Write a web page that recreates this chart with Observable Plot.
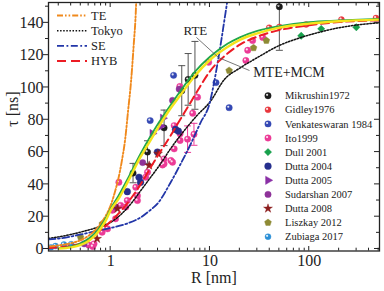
<!DOCTYPE html>
<html><head><meta charset="utf-8">
<script src="https://cdn.jsdelivr.net/npm/d3@7"></script>
<script src="https://cdn.jsdelivr.net/npm/@observablehq/plot@0.6"></script>
<style>html,body{margin:0;padding:0;background:#fff;}</style>
</head><body><div id="chart"></div>
<script>
// ---- model curves (R in nm, tau in ns) ----
const teR  = [0.2365,0.3,0.4,0.5,0.6,0.7,0.8,0.9,1,1.1,1.2,1.3,1.4,1.5,1.6,1.7,1.8,1.9];
const teTau= [1.5,2.2,3.6,5.5,8.2,11.6,16,21,27,35,44,55,68,86,103,125,150,200];
const tokR  = [0.2365,0.3,0.5,0.7,1,1.3,1.6,2,2.5,3.2,4,5,7.5,10,14,20,30,50,83,123,200,334,510];
const tokTau= [6.5,7.5,10.5,13,16.5,22,28,36,44,53,62,70,83,91,105,112,118.5,126,131,134,137,139,140];
const seR  = [0.2365,0.3,0.5,0.7,1,1.5,2,2.5,3,4,5,6.4,8,10,11,12,13,14,15,16];
const seTau= [6,6.5,9,11,13,16,19.5,24,28.5,41,52,65,78,91,103,116,129,142,154,166];
const hybR  = [0.2365,0.3,0.4,0.5,0.6,0.7,0.8,1,1.5,2,2.5,3,4,5,6,7.5,10,15,20,30,50,100,200,510];
const hybTau= [0.5,1,2,3.5,6,9,12,17,29,40,50,58,70,80,88,98,110,121,126.5,131.5,135.5,138.5,140.5,141.5];
const rteR  = [0.3,0.4,0.5,0.6,0.7,0.8,0.9,1,1.2,1.5,2,2.5,3,4,5,7,10,15,20,30,50,100,200,510];
const rteTau= [0.5,1.5,3.5,6.5,10,14.5,19.5,25,33,44,59,69.5,77.5,89,97.5,109.5,119,127,131,135,138,140.5,141.5,142.5];
const mtR  = [0.3,0.4,0.5,0.6,0.7,0.8,0.9,1,1.2,1.5,2,2.5,3,4,5,7,10,15,20,30,50,100,200,510];
const mtTau= [0.3,1,2.5,5,8.5,13,18,24,31,42,57,67,75,87,95,107,117,125,129.5,133.5,137,139.5,141,142];

// ---- measurements ----
const mikR=[1.68,2.35,3.45,5.2,6.03,7.06,50], mikTau=[47,60,75,98,105,107.5,150], mikErr=[6,7,11,15.5,16,21,27];
const gidR=[39.5,50,93,211,470], gidTau=[137,137.5,139,142,143];
const venR=[2.5,4.3,11.5,15.6], venTau=[79.5,107.5,103,87.5];
const itoR=[0.6,0.66,0.68,0.82,0.93,1.04,1.12,1.21,1.26,1.42,1.47,1.79,1.86,1.86,2.25,2.35,3.33,3.45,3.45,4.04,4.2,4.36,4.36,5.0,5.0,5.95,6.9,6.7,4.97,7.5,9.7,23,24,26.9,34];
const itoTau=[2.5,1.5,3.2,10.4,12.5,24,18.7,41.3,27,26,30,38.2,33,30,44.4,47.5,52,55.8,52.7,54.8,53.7,62,76.4,71.3,67.2,68,71,84,100.6,94,115.6,116.7,123,129,131];
const itoErrR=[5.95,6.9], itoErrTau=[68,71], itoErr=[8.2,6.8];
const dullR=[83,132,298], dullTau=[132,136.3,137.3];
const d04R=[1.47,1.93,2.0,2.96,4.5,4.8], d04Tau=[35.5,44.4,41.3,60,74,73];
const d05R=[2.63,3.2,3.35], d05Tau=[71.5,76,81];
const sudR=[0.54,1.12,2.1,4.2,4.9], sudTau=[3.2,26,53.5,92,99];
const d08R=[0.73,1.17,2.44,3.0], d08Tau=[6.3,24.9,51.7,59];
const lisR=[0.497,0.824,15.6,27.5,37], lisTau=[7.3,15.6,110.5,124.5,129];
const zubR=[0.25,0.278,0.338,0.4], zubTau=[1,1.8,2.8,3];

const xTicks=[1,10,100];
const yTicks=[0,20,40,60,80,100,120,140];
const annoR=[7.14,62.5], annoTau=[135.2,109.2], annoText=["RTE","MTE+MCM"];
const ptrR=[[7.3,12.2],[25,12.2]], ptrTau=[[131,118.5],[110.5,118.5]];

const pts=(R,T)=>R.map((r,i)=>({R:r,tau:T[i]}));
const errs=(R,T,E)=>R.map((r,i)=>({R:r,tau:T[i],e:E[i]}));

const pentagon={draw(ctx,size){const r=Math.sqrt(size/Math.PI)*1.15;for(let k=0;k<5;k++){const a=-Math.PI/2+k*2*Math.PI/5;const x=r*Math.cos(a),y=r*Math.sin(a);k?ctx.lineTo(x,y):ctx.moveTo(x,y);}ctx.closePath();}};
const hline={draw(ctx,size){const r=Math.sqrt(size/Math.PI);ctx.moveTo(-r,0);ctx.lineTo(r,0);}};

const series=[
 {name:"Mikrushin1972",R:mikR,T:mikTau,color:"#1c1c1c",sym:"circle",ball:true,r:3.2},
 {name:"Gidley1976",R:gidR,T:gidTau,color:"#e8363c",sym:"circle",ball:true,r:3},
 {name:"Venkateswaran 1984",R:venR,T:venTau,color:"#3448b4",sym:"circle",ball:true,r:3.2},
 {name:"Ito1999",R:itoR,T:itoTau,color:"#ec3a96",sym:"circle",ball:true,r:3.2},
 {name:"Dull 2001",R:dullR,T:dullTau,color:"#17a04c",sym:"diamond2",ball:false,r:3.3},
 {name:"Dutta 2004",R:d04R,T:d04Tau,color:"#262f8e",sym:"circle",ball:false,r:3.4},
 {name:"Dutta 2005",R:d05R,T:d05Tau,color:"#8a2fa6",sym:"triangle",ball:false,r:3.1,rot:90},
 {name:"Sudarshan 2007",R:sudR,T:sudTau,color:"#8e3399",sym:"circle",ball:false,r:3.2},
 {name:"Dutta 2008",R:d08R,T:d08Tau,color:"#8c1d1d",sym:"star",ball:false,r:2.8},
 {name:"Liszkay 2012",R:lisR,T:lisTau,color:"#8e8a34",sym:pentagon,ball:false,r:3.1},
 {name:"Zubiaga 2017",R:zubR,T:zubTau,color:"#2b8fd6",sym:"circle",ball:true,r:3}
];

const serif="'Liberation Serif','Times New Roman',serif";
const marks=[];
// error bars
const mikE=errs(mikR,mikTau,mikErr), itoE=errs(itoErrR,itoErrTau,itoErr);
[[mikE,"#555"],[itoE,"#ec3a96"]].forEach(([d,c])=>{
  marks.push(Plot.ruleX(d,{x:"R",y1:v=>v.tau-v.e,y2:v=>v.tau+v.e,stroke:c,strokeWidth:1,clip:true}));
  marks.push(Plot.dot(d,{x:"R",y:v=>v.tau-v.e,symbol:hline,r:3.5,stroke:c,strokeWidth:1,clip:true}));
  marks.push(Plot.dot(d,{x:"R",y:v=>v.tau+v.e,symbol:hline,r:3.5,stroke:c,strokeWidth:1,clip:true}));
});
// points
series.forEach(s=>{
  const d=pts(s.R,s.T);
  marks.push(Plot.dot(d,{x:"R",y:"tau",symbol:s.sym,r:s.r,fill:s.color,stroke:s.color,strokeWidth:0.4,rotate:s.rot||0,clip:true}));
  if(s.ball) marks.push(Plot.dot(d,{x:"R",y:"tau",r:1.1,dx:-0.9,dy:-0.9,fill:"white",fillOpacity:0.85,clip:true}));
});
// curves
marks.push(Plot.line(pts(tokR,tokTau),{x:"R",y:"tau",stroke:"#111",strokeWidth:1.5,strokeDasharray:"1.5,1.6",curve:"monotone-x",clip:true}));
marks.push(Plot.line(pts(seR,seTau),{x:"R",y:"tau",stroke:"#2236a8",strokeWidth:1.8,strokeDasharray:"7,2.5,1.8,2.5",curve:"monotone-x",clip:true}));
marks.push(Plot.line(pts(hybR,hybTau),{x:"R",y:"tau",stroke:"#ec1c24",strokeWidth:2,strokeDasharray:"8,4.5",curve:"monotone-x",clip:true}));
marks.push(Plot.line(pts(teR,teTau),{x:"R",y:"tau",stroke:"#f0891c",strokeWidth:1.9,strokeDasharray:"6,2,1.6,2,1.6,2",curve:"monotone-x",clip:true}));
marks.push(Plot.line(pts(rteR,rteTau),{x:"R",y:"tau",stroke:"#22a84a",strokeWidth:1.8,curve:"monotone-x",clip:true}));
marks.push(Plot.line(pts(mtR,mtTau),{x:"R",y:"tau",stroke:"#f4e41c",strokeWidth:2.4,curve:"monotone-x",clip:true}));
// annotations
ptrR.forEach((r,i)=>marks.push(Plot.link([0],{x1:()=>r[0],x2:()=>r[1],y1:()=>ptrTau[i][0],y2:()=>ptrTau[i][1],stroke:"#555",strokeWidth:0.8})));
marks.push(Plot.text(annoText.map((t,i)=>({t,R:annoR[i],tau:annoTau[i]})),{x:"R",y:"tau",text:"t",fontSize:d=>d.t==="RTE"?13:14,fill:"#222"}));
// frame, axes
marks.push(Plot.frame({stroke:"#222",strokeWidth:1.3}));
marks.push(Plot.axisX({ticks:xTicks,tickFormat:d=>String(d),tickSize:0,tickPadding:4,fontSize:16,label:null}));
marks.push(Plot.axisY({ticks:yTicks,tickSize:0,tickPadding:5,fontSize:16,label:null}));
marks.push(Plot.text(["R [nm]"],{frameAnchor:"bottom",dy:31.5,fontSize:16,text:d=>d,fill:"#222"}));
marks.push(Plot.text(["τ [ns]"],{frameAnchor:"left",dx:-36,rotate:-90,fontSize:16,text:d=>d,fill:"#222"}));

const svg=Plot.plot({
  width:384,height:291,marginLeft:48,marginRight:5,marginTop:2,marginBottom:40.5,
  x:{type:"log",domain:[0.2365,510]},
  y:{domain:[-1.24,152.6]},
  style:{fontFamily:serif,fontSize:"16px",color:"#222",background:"white"},
  marks
});

// tick marks on all four sides
const X=v=>svg.scale("x").apply(v), Y=v=>svg.scale("y").apply(v);
const L=48,Rt=379,T=2,B=250.5;
const xMinor=[];[0.1,1,10,100].forEach(b=>{for(let k=2;k<=9;k++){const v=b*k;if(v>0.2365&&v<510&&!xTicks.includes(v))xMinor.push(v);}});
const yMinor=[10,30,50,70,90,110,130,150];
const tg=d3.select(svg).append("g").attr("stroke","#222").attr("stroke-width",1);
const ln=(x1,y1,x2,y2)=>tg.append("line").attr("x1",x1).attr("y1",y1).attr("x2",x2).attr("y2",y2);
xTicks.forEach(v=>{const x=X(v);ln(x,B,x,B-4.5);ln(x,T,x,T+5);});
xMinor.forEach(v=>{const x=X(v);ln(x,B,x,B-2.8);ln(x,T,x,T+3.5);});
yTicks.forEach(v=>{const y=Y(v);ln(L,y,L-5,y);ln(Rt,y,Rt-5,y);});
yMinor.forEach(v=>{const y=Y(v);if(y>T+1){ln(L,y,L-3,y);ln(Rt,y,Rt-3,y);}});

// legends
const lg=d3.select(svg).append("g").attr("font-family",serif).attr("fill","#222").attr("text-anchor","start");
const lineLeg=[["TE","#f0891c","6,2,1.6,2,1.6,2",1.9],["Tokyo","#111","1.5,1.6",1.4],["SE","#2236a8","7,2.5,1.8,2.5",1.8],["HYB","#ec1c24","9,5",2]];
lineLeg.forEach(([t,c,da,w],i)=>{
  const y=15.5+i*15.2;
  lg.append("line").attr("x1",57).attr("x2",87).attr("y1",y).attr("y2",y).attr("stroke",c).attr("stroke-width",w).attr("stroke-dasharray",da);
  lg.append("text").attr("x",91).attr("y",y).attr("dy","0.35em").attr("text-anchor","start").attr("font-size",12.5).text(t);
});
const symMap={circle:d3.symbolCircle,diamond2:d3.symbolDiamond2,triangle:d3.symbolTriangle,star:d3.symbolStar};
series.forEach((s,i)=>{
  const y=95.7+i*14.1;
  const type=typeof s.sym==="string"?symMap[s.sym]:s.sym;
  lg.append("path").attr("d",d3.symbol(type,Math.PI*s.r*s.r)()).attr("transform",`translate(268,${y}) rotate(${s.rot||0})`).attr("fill",s.color).attr("stroke",s.color).attr("stroke-width",0.4);
  if(s.ball) lg.append("circle").attr("cx",267.1).attr("cy",y-0.9).attr("r",1.1).attr("fill","white").attr("fill-opacity",0.85);
  lg.append("text").attr("x",285).attr("y",y).attr("dy","0.35em").attr("text-anchor","start").attr("font-size",10.5).text(s.name);
});

document.getElementById("chart").appendChild(svg);
</script>
</body></html>
